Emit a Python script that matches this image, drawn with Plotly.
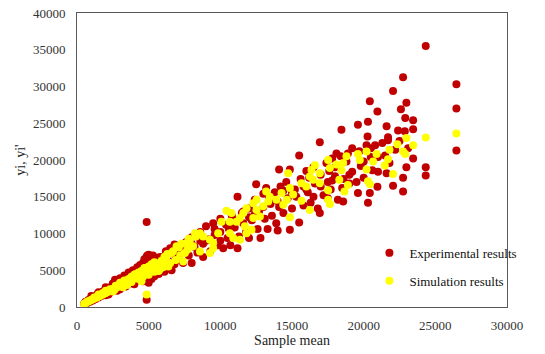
import plotly.graph_objects as go

# Experimental results (red)
exp_x = [500,600,700,800,900,1000,1100,1200,1300,1400,1500,1600,1700,1800,1900,2000,2100,2200,2300,2400,
         2500,2600,2700,2800,2900,3000,3100,3200,3300,3400,3500,3600,3700,3800,3900,4000,4100,4200,4300,4400,
         4500,4600,4700,4800,4850,4900,5000,5100,5200,5300,5400,5500,5600,3500,2500,1500,4000,3000,2000,4500,
         5200,2650,
         1000,1500,2000,2500,3000,3300,3600,3900,4200,4400,4600,4700,5000,5100,5300,5600,5800,6200,6500,6800,
         2200,2800,3400,4000,4600,5000,5400,5700,6100,6400,6800,7100,7500,
         5800,6000,6200,6400,6500,6600,6800,7000,7200,7400,7600,7800,8000,8000,8200,8400,8400,8600,8800,8800,
         9000,9200,9300,9500,9600,9800,10000,10000,10200,10400,10500,10700,10800,11000,11200,11200,11300,11500,11600,11800,
         12000,12000,12200,12400,12500,12600,12700,12800,13000,13100,13200,13300,13500,13600,13800,13900,14000,14100,14100,14200,
         14400,14600,14700,14850,14850,15000,15200,15300,15500,15500,15600,15800,16000,16100,16300,16500,16600,16800,16940,16940,
         17000,17200,17400,17500,17600,17700,17800,18000,18100,18200,18450,18570,18600,18800,18900,19000,19200,19600,19600,19700,
         19800,20000,20200,20270,20300,20300,20430,20430,20500,20600,20800,20960,20960,21000,21300,21600,21600,21700,21700,21800,
         22050,22050,22200,22400,22600,22750,22750,22750,22870,22900,22980,22980,23100,23450,23450,23450,24330,24330,24330,26470,
         26470,26470,4860,4860,
         16000,17000,18000,19000,20000,21000,15000,14000,13000,12000,11000,10000,9000,8000,7000,6000,19500,18500,17500,16500,
         21500,22500,20500,19200,18400,16200,17800,15800,14400,13400,12400,11600,10600,9600,8600]
exp_y = [450,700,550,950,700,1200,900,1400,1100,1700,1300,1900,1500,2100,1700,2300,1800,2500,2000,2800,
         2200,3000,2300,3300,2600,3500,2700,3700,2900,3900,3100,4200,3200,4500,3400,4700,3600,5000,3800,5200,
         4000,5500,4100,6300,6800,7000,6500,5600,4600,7000,5200,6000,4800,3600,2600,1600,3300,2400,1600,4800,
         3800,3700,
         1500,2000,2700,3200,3900,4300,4700,5000,5400,5700,6000,6500,7100,6800,6300,6700,5600,6600,7300,8500,
         1700,2200,2800,3100,3500,3300,4200,4500,4800,5400,5800,6900,8200,
         6800,5200,7600,6200,8000,5000,7200,6400,8200,6000,8800,7000,9500,6000,8200,9800,7400,10200,8600,6800,
         11000,9200,7600,11400,9800,8400,12000,10200,8000,11200,9400,8400,12400,10800,15000,8000,9600,12800,11400,10200,
         13400,9400,11800,14600,16700,10600,13000,9400,15400,12000,16200,10600,14000,12400,15600,11400,10400,18700,13600,16400,
         12800,17000,14800,18700,10500,13400,16000,15000,20600,11500,17400,13800,18500,15600,14200,19000,16800,13400,22400,12800,
         18000,15200,19600,17000,18500,16000,20200,19000,20900,14600,24100,14350,17400,19800,20900,16800,18400,24800,15500,21200,
         19200,17600,22000,23200,25200,14200,28000,15500,21600,18600,22000,26600,16350,20400,22300,24600,18200,23100,22700,19600,
         29400,16500,21400,24000,26900,31250,17600,15700,23900,25700,27800,19000,21600,25400,24200,20200,35500,19000,17900,30300,
         27000,21300,11550,1000,
         16000,16400,17800,18000,19800,18400,15600,14400,13600,12200,11800,9000,9000,8600,7800,6400,17000,16200,14800,15000,
         20600,22600,20400,21600,20500,17600,17200,16400,15800,14800,12600,13000,10600,10600,9000]

# Simulation results (yellow)
sim_x = [500,600,700,800,900,1000,1100,1200,1300,1400,1500,1600,1700,1800,1900,2000,2100,2200,2300,2400,
         2500,2600,2700,2800,2900,3000,3100,3200,3300,3400,3500,3600,3700,3800,3900,4000,4100,4200,4300,4400,
         4500,4600,4700,4800,4900,5000,5100,5200,5300,5500,5600,4500,4000,3500,3000,2500,2000,1500,4860,5800,
         4700,3200,3800,
         1200,1800,2300,2700,3100,3300,3600,3900,4100,4300,4500,4700,4800,5000,5200,5400,5600,5900,6100,6300,
         6700,7100,7300,7800,8300,2600,3200,3800,4300,4600,5000,5400,5700,6000,6500,6900,7200,7700,
         24330,26470,23450,22980,22350,22750,22900,21800,21700,21470,22050,20900,20200,19600,19730,20200,20300,20430,20660,18800,
         18570,18100,18450,18900,18660,18300,17520,17640,17520,17640,17520,16940,16940,16600,16360,16240,16480,15660,16000,16240,
         15660,14730,14850,15080,14640,14850,14270,13920,14390,13200,13450,13340,12990,12530,12300,12530,12760,12300,11830,11600,
         11370,11710,12180,11830,11130,10780,10430,10660,10080,9850,10660,10900,11370,9500,9270,8800,8580,8230,7880,7650,
         8100,8580,9500,9270,7530,7410,6950,6600,6250,6020,6370,5790,5550]
sim_y = [400,550,700,750,900,950,1050,1150,1300,1300,1450,1500,1650,1700,1850,1900,2050,2100,2250,2300,
         2450,2500,2600,2700,2850,2900,3050,3100,3200,3300,3450,3500,3600,3700,3800,3900,4050,4000,4200,4300,
         4400,4500,4700,4800,4600,5000,5200,5400,5100,5500,5300,3500,4400,3000,3300,2100,2200,1700,1700,5200,
         5300,2700,4100,
         1300,1900,2400,2900,3300,3600,3800,4200,4500,4700,4900,4500,5300,5500,5800,6100,5900,6300,6800,7200,
         7600,8100,8600,9300,9600,2300,2900,3400,3800,4100,4400,4800,4900,5400,6000,6400,7000,7800,
         23050,23600,22000,23000,22150,21150,20800,21400,20100,19250,18100,20800,21150,20800,20000,18700,17100,16700,19800,20500,
         19600,19400,18600,16600,15700,17300,20000,18900,15900,14000,14600,18200,16850,19300,18650,17750,17300,16850,16400,13200,
         14450,18200,16200,15300,14600,12200,15500,14600,13900,15700,15000,14350,13700,14600,14100,13200,12300,12100,13450,12800,
         12100,11000,10500,10050,11600,12800,13100,11600,11600,10050,10050,9400,9150,8700,9150,9600,10050,10050,9150,8700,
         8250,7550,8000,7350,7350,6200,8250,7350,6900,6200,5500,5500,5050]

font_family = "Liberation Serif"

fig = go.Figure()
fig.add_trace(go.Scatter(
    x=exp_x, y=exp_y, mode="markers", name="Experimental results",
    legendgroup="exp",
    marker=dict(color="#C00000", size=8, line=dict(width=0)),
))
fig.add_trace(go.Scatter(
    x=sim_x, y=sim_y, mode="markers", name="Simulation results",
    legendgroup="sim",
    marker=dict(color="#FFFF00", size=8, line=dict(width=0)),
))

fig.update_layout(
    width=545, height=354,
    margin=dict(l=77, r=38, t=13, b=47),
    paper_bgcolor="white", plot_bgcolor="white",
    font=dict(family=font_family, size=12, color="#222222"),
    showlegend=True,
    legend=dict(
        x=0.68, y=0.235, xanchor="left", yanchor="top",
        bgcolor="rgba(0,0,0,0)", font=dict(family=font_family, size=13, color="#111111"),
        traceorder="grouped", tracegroupgap=8, itemwidth=30,
    ),
    xaxis=dict(
        range=[0, 30000], dtick=5000, tick0=0, tickformat="d",
        showgrid=False, zeroline=False, automargin=False,
        showline=True, mirror=True, linecolor="#595959", linewidth=1,
        ticks="", ticklabelstandoff=6,
        tickfont=dict(family=font_family, size=13, color="#333333"),
        title=dict(text="Sample mean", font=dict(family=font_family, size=14), standoff=0),
    ),
    yaxis=dict(
        range=[0, 40000], dtick=5000, tick0=0, tickformat="d",
        showgrid=False, zeroline=False, automargin=False,
        showline=True, mirror=True, linecolor="#595959", linewidth=1,
        ticks="", ticklabelstandoff=8,
        tickfont=dict(family=font_family, size=13, color="#333333"),
        title=dict(text="yi, yi'", font=dict(family=font_family, size=14), standoff=4),
    ),
)

fig.write_html("out.html")
